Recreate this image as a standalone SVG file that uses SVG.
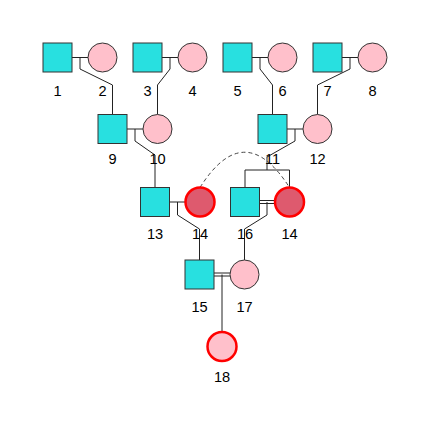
<svg xmlns="http://www.w3.org/2000/svg" width="430" height="430" viewBox="0 0 430 430">
<style>
.m{fill:#28E0E0;stroke:#333;stroke-width:1}
.f{fill:#FFC0CB;stroke:#333;stroke-width:1}
.fa{fill:#DE5A6E;stroke:#FF0000;stroke-width:2.5}
.fr{fill:#FFC0CB;stroke:#FF0000;stroke-width:2.5}
.lbl{font-family:"Liberation Sans",Arial,sans-serif;font-size:14.6px;fill:#000;text-anchor:middle}
#connectors line,#connectors path{stroke:#222;stroke-width:1;fill:none}
#connectors .arc{stroke:#444;stroke-dasharray:4,3}
</style>
<rect width="430" height="430" fill="#fff"/>
<g id="connectors">
<line x1="72" y1="57.5" x2="88" y2="57.5"/>
<line x1="162" y1="57.5" x2="178" y2="57.5"/>
<line x1="252" y1="57.5" x2="268" y2="57.5"/>
<line x1="342" y1="57.5" x2="358" y2="57.5"/>
<path d="M80,57.5 V69 L112.5,85 V114.5"/>
<path d="M170,57.5 V69 L157.5,85 V114.5"/>
<path d="M260,57.5 V69 L272.5,85 V114.5"/>
<path d="M350,57.5 V69 L317.5,85 V114.5"/>
<line x1="127" y1="129" x2="143" y2="129"/>
<line x1="287" y1="129" x2="303" y2="129"/>
<path d="M135,129 V141 L155,155 V187.5"/>
<path d="M295,129 V141 L267,157 V170"/>
<path d="M245,187.5 V170 H289.5 V187.5"/>
<line x1="169.5" y1="202" x2="185.5" y2="202"/>
<path d="M177.5,202 V215 L199.5,229 V260"/>
<line x1="259.5" y1="200.5" x2="275" y2="200.5"/>
<line x1="259.5" y1="203.5" x2="275" y2="203.5"/>
<path d="M267,202 V215 L244.5,229 V260"/>
<line x1="214" y1="273" x2="230" y2="273"/>
<line x1="214" y1="276" x2="230" y2="276"/>
<line x1="222" y1="274.5" x2="222" y2="332"/>
<path class="arc" d="M200,187.5 Q244.5,117 289.5,187.5"/>
</g>
<g id="n1"><rect class="m" x="43" y="43" width="29" height="29"/><text class="lbl" x="57.5" y="95.5">1</text></g>
<g id="n2"><circle class="f" cx="102.5" cy="57.5" r="14.5"/><text class="lbl" x="102.5" y="95.5">2</text></g>
<g id="n3"><rect class="m" x="133" y="43" width="29" height="29"/><text class="lbl" x="147.5" y="95.5">3</text></g>
<g id="n4"><circle class="f" cx="192.5" cy="57.5" r="14.5"/><text class="lbl" x="192.5" y="95.5">4</text></g>
<g id="n5"><rect class="m" x="223" y="43" width="29" height="29"/><text class="lbl" x="237.5" y="95.5">5</text></g>
<g id="n6"><circle class="f" cx="282.5" cy="57.5" r="14.5"/><text class="lbl" x="282.5" y="95.5">6</text></g>
<g id="n7"><rect class="m" x="313" y="43" width="29" height="29"/><text class="lbl" x="327.5" y="95.5">7</text></g>
<g id="n8"><circle class="f" cx="372.5" cy="57.5" r="14.5"/><text class="lbl" x="372.5" y="95.5">8</text></g>
<g id="n9"><rect class="m" x="98" y="114.5" width="29" height="29"/><text class="lbl" x="112.5" y="163.5">9</text></g>
<g id="n10"><circle class="f" cx="157.5" cy="129" r="14.5"/><text class="lbl" x="157.5" y="163.5">10</text></g>
<g id="n11"><rect class="m" x="258" y="114.5" width="29" height="29"/><text class="lbl" x="272.5" y="163.5">11</text></g>
<g id="n12"><circle class="f" cx="317.5" cy="129" r="14.5"/><text class="lbl" x="317.5" y="163.5">12</text></g>
<g id="n13"><rect class="m" x="140.5" y="187.5" width="29" height="29"/><text class="lbl" x="155" y="238.5">13</text></g>
<g id="n14a"><circle class="fa" cx="200" cy="202" r="14.5"/><text class="lbl" x="200" y="238.5">14</text></g>
<g id="n16"><rect class="m" x="230.5" y="187.5" width="29" height="29"/><text class="lbl" x="245" y="238.5">16</text></g>
<g id="n14b"><circle class="fa" cx="289.5" cy="202" r="14.5"/><text class="lbl" x="289.5" y="238.5">14</text></g>
<g id="n15"><rect class="m" x="185" y="260" width="29" height="29"/><text class="lbl" x="199.5" y="311.5">15</text></g>
<g id="n17"><circle class="f" cx="244.5" cy="274.5" r="14.5"/><text class="lbl" x="244.5" y="311.5">17</text></g>
<g id="n18"><circle class="fr" cx="222" cy="346.5" r="14.5"/><text class="lbl" x="222" y="381.5">18</text></g>
</svg>
